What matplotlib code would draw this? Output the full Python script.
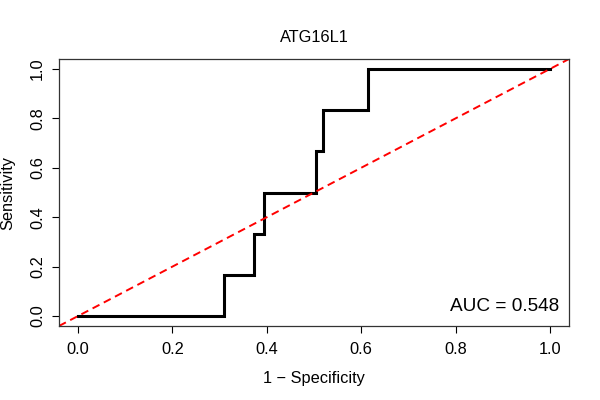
import matplotlib
matplotlib.use("Agg")
import matplotlib.pyplot as plt

# ROC curve points (1 - specificity, sensitivity)
fpr = [0.0, 0.310, 0.310, 0.3735, 0.3735, 0.394, 0.394, 0.5035, 0.5035, 0.520, 0.520, 0.615, 0.615, 1.0]
tpr = [0.0, 0.0, 1 / 6, 1 / 6, 2 / 6, 2 / 6, 3 / 6, 3 / 6, 4 / 6, 4 / 6, 5 / 6, 5 / 6, 1.0, 1.0]
ticks = [0.0, 0.2, 0.4, 0.6, 0.8, 1.0]
tick_labels = ["0.0", "0.2", "0.4", "0.6", "0.8", "1.0"]
gene = "ATG16L1"
auc_value = 0.548

plt.rcParams["font.family"] = ["Liberation Sans", "DejaVu Sans"]

fig = plt.figure(figsize=(6, 4), dpi=100)
ax = fig.add_axes([0.0983, 0.185, 0.85, 0.6675])

ax.plot(fpr, tpr, color="black", linewidth=2.2, solid_joinstyle="miter")
ax.axline((0, 0), slope=1, color="red", linewidth=1.4, linestyle=(0, (4, 2.5)))

ax.set_xlim(-0.04, 1.04)
ax.set_ylim(-0.04, 1.04)
ax.set_xticks(ticks)
ax.set_xticklabels(tick_labels)
ax.set_yticks(ticks)
ax.set_yticklabels(tick_labels, rotation=90, va="center")
ax.tick_params(axis="both", direction="out", length=5, width=0.8, labelsize=11.8, colors="black")
ax.tick_params(axis="x", pad=6.5)
ax.tick_params(axis="y", pad=5)
for sp in ax.spines.values():
    sp.set_linewidth(0.9)
    sp.set_color("#333333")

ax.set_xlabel("1 \u2212 Specificity", fontsize=11.8)
ax.set_ylabel("Sensitivity", fontsize=11.8)
ax.xaxis.set_label_coords(0.5, -0.168)
ax.yaxis.set_label_coords(-0.085, 0.5)
ax.set_title(gene, fontsize=11.8, pad=12)

ax.text(1.02, 0.02, f"AUC = {auc_value:.3f}", ha="right", va="baseline", fontsize=13.7)

fig.savefig("out.png", dpi=100)
